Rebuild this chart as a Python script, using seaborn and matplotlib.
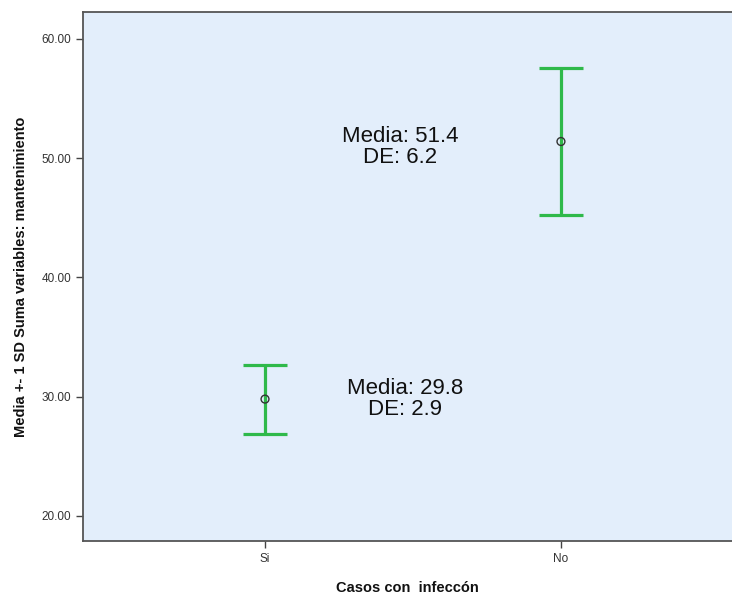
import matplotlib
matplotlib.use('Agg')
import matplotlib.pyplot as plt
import seaborn as sns
import pandas as pd

# --- Datos ---
grupos = ['Si', 'No']
medias = [29.8, 51.4]
de = [2.9, 6.2]
etiquetas = ['Media: 29.8\nDE: 2.9', 'Media: 51.4\nDE: 6.2']

df = pd.DataFrame({'grupo': grupos, 'media': medias, 'de': de})
df['pos'] = range(len(grupos))

sns.set_style('white')
plt.rcParams['font.family'] = ['Liberation Sans', 'DejaVu Sans']

fig = plt.figure(figsize=(7.32, 5.94), dpi=100)
ax = fig.add_axes([0.1134, 0.0892, 0.8866, 0.8906])
ax.set_facecolor('#e3eefb')

verde = '#2fb94a'
ax.errorbar(df['pos'], df['media'], yerr=df['de'], fmt='none',
            ecolor=verde, elinewidth=2.3, capsize=15.8, capthick=2.3, zorder=2)
sns.scatterplot(data=df, x='pos', y='media', ax=ax, marker='o', s=32,
                facecolor='none', edgecolor='#333333', linewidth=1, zorder=3)

# textos
pos_texto = [(0.473, 29.8), (0.456, 50.9)]
for (tx, ty), txt in zip(pos_texto, etiquetas):
    ax.text(tx, ty, txt, ha='center', va='center', fontsize=16,
            color='#111111', linespacing=1.0)

ax.set_xlim(-0.615, 1.578)
ax.set_ylim(17.9, 62.26)
ax.set_xticks(df['pos'])
ax.set_xticklabels(grupos)
ax.set_yticks([20, 30, 40, 50, 60])
ax.set_yticklabels([f'{v:.2f}' for v in [20, 30, 40, 50, 60]])
ax.tick_params(axis='both', direction='out', length=5, width=1,
               color='#444444', labelsize=8.5, labelcolor='#333333',
               bottom=True, left=True)

for s in ['top', 'left', 'bottom']:
    ax.spines[s].set_color('#555555')
    ax.spines[s].set_linewidth(1.3)
ax.spines['right'].set_visible(False)

ax.set_xlabel('Casos con  infeccón', fontsize=10.5, fontweight='bold',
              color='#111111', labelpad=12)
ax.set_ylabel('Media +- 1 SD Suma variables: mantenimiento', fontsize=10.5,
              fontweight='bold', color='#111111', labelpad=10)

fig.savefig('out.png', dpi=100)
